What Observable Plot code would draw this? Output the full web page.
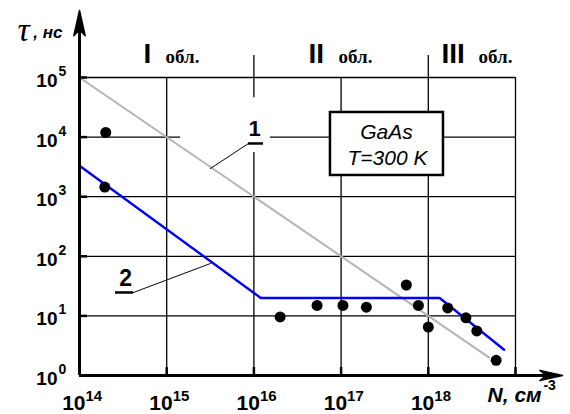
<!DOCTYPE html>
<html><head><meta charset="utf-8">
<script src="https://cdn.jsdelivr.net/npm/d3@7"></script>
<script src="https://cdn.jsdelivr.net/npm/@observablehq/plot@0.6"></script>
<style>body{margin:0;background:#fff}</style>
</head><body><div id="chart"></div>
<script>
// ---- data ----
const gridExpX = [15, 16, 17, 18, 19];
const gridExpY = [1, 2, 3, 4, 5];
const xTickExp = [14, 15, 16, 17, 18];
const yTickExp = [0, 1, 2, 3, 4, 5];
const regionNames = ["I", "II", "III"];
const regionSuffix = "обл.";
// curve 1 (grey)
const curve1N = [1e14, 5e18];
const curve1Tau = [1e5, 2];
// curve 2 (blue)
const curve2N = [1e14, 1.2e16, 1.35e18, 7.4e18];
const curve2Tau = [3300, 20, 20, 2.7];
// experimental points
const expN = [2.0e14, 1.95e14, 2.0e16, 5.3e16, 1.05e17, 1.95e17, 5.6e17, 7.7e17, 1.0e18, 1.67e18, 2.7e18, 3.6e18, 6.0e18];
const expTau = [1.2e4, 1450, 9.6, 15, 15, 14, 33, 15, 6.5, 13.6, 9.3, 5.6, 1.8];

const sans = "Liberation Sans, Arial, sans-serif";
const serif = "Liberation Serif, Times New Roman, serif";
const P = (e) => 10 ** e;
const pt = (a, b) => ({n: P(a), t: P(b)});

const curve1 = curve1N.map((n, i) => ({n, t: curve1Tau[i]}));
const curve2 = curve2N.map((n, i) => ({n, t: curve2Tau[i]}));
const pts = expN.map((n, i) => ({n, t: expTau[i]}));

// arrowheads of the axes (log10 coordinates)
const yHead = [pt(14, 6.124), pt(13.935, 5.70), pt(14, 5.80), pt(14.065, 5.70), pt(14, 6.124)];
const xHead = [pt(19.539, 0), pt(19.28, 0.085), pt(19.35, 0), pt(19.28, -0.085), pt(19.539, 0)];

const regionOpts = {frameAnchor: "top-left", dy: -15, textAnchor: "start", lineAnchor: "bottom", fill: "#000"};
const romanOpts = {...regionOpts, fontSize: 28, fontWeight: "bold", fontFamily: sans};
const suffixOpts = {...regionOpts, fontSize: 19, fontWeight: "bold", fontFamily: serif};

const chart = Plot.plot({
  width: 570, height: 414,
  marginLeft: 79, marginRight: 55, marginTop: 77, marginBottom: 39,
  x: {type: "log", domain: [1e14, 1e19], axis: null},
  y: {type: "log", domain: [1, 1e5], axis: null},
  style: {background: "#fff", overflow: "visible"},
  marks: [
    // grid
    Plot.ruleX(gridExpX.map(P), {y1: 1, y2: 1e5, stroke: "#000", strokeWidth: 1.3}),
    Plot.ruleY(gridExpY.map(P), {x1: 1e14, x2: 1e19, stroke: "#000", strokeWidth: 1.3}),
    // region separators
    Plot.ruleX([1e16, 1e18], {y1: 1e5, y2: P(5.37), stroke: "#000", strokeWidth: 1.3}),
    // white gap behind label 1
    Plot.rect([0], {x1: P(15.158), x2: P(16.19), y1: P(3.74), y2: P(4.66), fill: "#fff"}),
    // info box
    Plot.rect([0], {x1: P(16.878), x2: P(18.174), y1: P(3.356), y2: P(4.413), fill: "#fff", stroke: "#000", strokeWidth: 2.5}),
    Plot.text(["GaAs"], {x: P(17.521), y: P(4.086), fontSize: 21, fontStyle: "italic", fontFamily: sans, fill: "#000"}),
    Plot.text(["T=300 K"], {x: P(17.532), y: P(3.649), fontSize: 21, fontStyle: "italic", fontFamily: sans, fill: "#000"}),
    // curves
    Plot.line(curve1, {x: "n", y: "t", stroke: "#b4b4b4", strokeWidth: 2}),
    Plot.line(curve2, {x: "n", y: "t", stroke: "#e00000", strokeWidth: 1.2, strokeDasharray: "2,3"}),
    Plot.line(curve2, {x: "n", y: "t", stroke: "#0000ff", strokeWidth: 2.4}),
    // points
    Plot.dot(pts, {x: "n", y: "t", r: 5.5, fill: "#000", stroke: "none"}),
    // label 1
    Plot.line([pt(15.938, 3.893), pt(15.502, 3.473)], {x: "n", y: "t", stroke: "#000", strokeWidth: 1}),
    Plot.ruleY([P(3.893)], {x1: P(15.938), x2: P(16.11), stroke: "#000", strokeWidth: 2.5}),
    Plot.text(["1"], {x: P(16.007), y: P(4.144), fontSize: 22, fontWeight: "bold", fontFamily: sans, fill: "#000"}),
    // label 2
    Plot.line([pt(14.619, 1.393), pt(15.502, 1.879)], {x: "n", y: "t", stroke: "#000", strokeWidth: 1}),
    Plot.ruleY([P(1.393)], {x1: P(14.413), x2: P(14.619), stroke: "#000", strokeWidth: 2.5}),
    Plot.text(["2"], {x: P(14.528), y: P(1.627), fontSize: 23, fontWeight: "bold", fontFamily: sans, fill: "#000"}),
    // axes with arrows
    Plot.ruleX([1e14], {y1: 1, y2: P(5.9), stroke: "#000", strokeWidth: 3}),
    Plot.ruleY([1], {x1: 1e14, x2: P(19.4), stroke: "#000", strokeWidth: 3}),
    Plot.line(yHead, {x: "n", y: "t", stroke: "#000", fill: "#000", strokeWidth: 1.5}),
    Plot.line(xHead, {x: "n", y: "t", stroke: "#000", fill: "#000", strokeWidth: 1.5}),
    // small inward ticks
    Plot.ruleX(gridExpX.map(P), {y1: 1, y2: P(0.134), stroke: "#000", strokeWidth: 2.5}),
    Plot.ruleY(gridExpY.map(P), {x1: 1e14, x2: P(14.092), stroke: "#000", strokeWidth: 2.5}),
    // y tick labels
    Plot.text(yTickExp, {x: 1e14, y: P, text: () => "10", textAnchor: "end", dx: -22, dy: 3.5, fontSize: 19, fontWeight: "bold", fontFamily: sans, fill: "#000"}),
    Plot.text(yTickExp, {x: 1e14, y: P, text: (e) => String(e), textAnchor: "start", dx: -21, dy: -6, fontSize: 14, fontWeight: "bold", fontFamily: sans, fill: "#000"}),
    // x tick labels
    Plot.text(xTickExp, {x: P, y: 1, text: () => "10", textAnchor: "end", dx: 6, dy: 28, fontSize: 21, fontWeight: "bold", fontFamily: sans, fill: "#000"}),
    Plot.text(xTickExp, {x: P, y: 1, text: (e) => String(e), textAnchor: "start", dx: 6, dy: 21, fontSize: 15, fontWeight: "bold", fontFamily: sans, fill: "#000"}),
    // axis titles
    Plot.text(["τ"], {x: P(13.358), y: P(5.80), fontSize: 34, fontStyle: "italic", fontFamily: serif, fill: "#000"}),
    Plot.text([", нс"], {x: P(13.47), y: P(5.75), textAnchor: "start", fontSize: 17, fontStyle: "italic", fontWeight: "bold", fontFamily: sans, fill: "#000"}),
    Plot.text(["N, см"], {x: P(18.68), y: P(-0.33), textAnchor: "start", fontSize: 21, fontStyle: "italic", fontWeight: "bold", fontFamily: sans, fill: "#000"}),
    Plot.text(["-3"], {x: P(19.32), y: P(-0.16), textAnchor: "start", fontSize: 14, fontWeight: "bold", fontFamily: sans, fill: "#000"}),
    // region labels
    Plot.text([regionNames[0]], {...romanOpts, dx: 64}),
    Plot.text([regionNames[1]], {...romanOpts, dx: 229}),
    Plot.text([regionNames[2]], {...romanOpts, dx: 362}),
    Plot.text([regionSuffix], {...suffixOpts, dx: 86}),
    Plot.text([regionSuffix], {...suffixOpts, dx: 259}),
    Plot.text([regionSuffix], {...suffixOpts, dx: 399})
  ]
});
document.getElementById("chart").appendChild(chart);
</script>
</body></html>
